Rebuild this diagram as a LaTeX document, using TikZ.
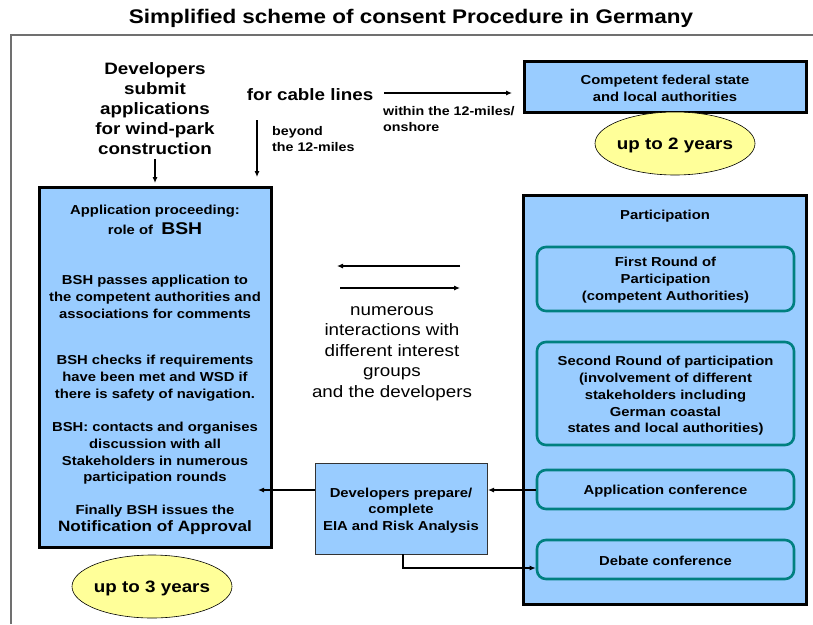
\documentclass[tikz,border=0pt]{standalone}
\usepackage{fontspec}
\setmainfont[FakeStretch=1.14]{Liberation Sans}
\usetikzlibrary{arrows.meta}
\definecolor{boxblue}{HTML}{99CCFF}
\definecolor{ovalyellow}{HTML}{FFFF99}
\definecolor{tealline}{HTML}{008080}
\definecolor{framegray}{HTML}{707070}
\tikzset{
  txt/.style={align=center, inner sep=0pt, yshift=-1.5pt},
  bigbox/.style={draw=black, line width=3pt, fill=boxblue, inner sep=0pt},
  roundbox/.style={draw=tealline, line width=2.6pt, fill=boxblue, rounded corners=9pt, inner sep=0pt},
  oval/.style={draw=black, line width=0.6pt, fill=ovalyellow, ellipse, inner sep=0pt},
  conn/.style={line width=1.1pt, -{Latex[length=6pt,width=5pt]}},
}
\usetikzlibrary{shapes.geometric}
\begin{document}
\begin{tikzpicture}[x=1pt,y=-1pt]
\useasboundingbox (0,0) rectangle (813,624);
% title
\node[txt, font=\fontsize{19.7}{22}\selectfont\bfseries] (title) at (411,17) {Simplified scheme of consent Procedure in Germany};
% frame
\draw[framegray, line width=2pt] (11,624) -- (11,35) -- (813,35);

% top left
\node[txt, font=\fontsize{16.5}{20.2}\selectfont\bfseries] (dev) at (155,107) {Developers\\submit\\applications\\for wind-park\\construction};
\node[txt, font=\fontsize{16.5}{20}\selectfont\bfseries] (cable) at (310,93) {for cable lines};
\coordinate (cableR) at (384,93);
\coordinate (cableD) at (257,120);
\node[txt, yshift=1.5pt, font=\fontsize{12.5}{16}\selectfont\bfseries, align=left, anchor=west] (within) at (383,119) {within the 12-miles/\\onshore};
\node[txt, yshift=1.5pt, font=\fontsize{12.5}{16}\selectfont\bfseries, align=left, anchor=west] (beyond) at (272,139) {beyond\\the 12-miles};

% competent box
\node[bigbox, minimum width=282pt, minimum height=51pt] (comp) at (665,86.5) {};
\node[txt, font=\fontsize{13}{17.5}\selectfont\bfseries] (comptxt) at (665,87) {Competent federal state\\and local authorities};
\node[oval, minimum width=160pt, minimum height=63pt] (two) at (675,143.5) {};
\node[txt, yshift=-0.5pt, font=\fontsize{16.5}{20}\selectfont\bfseries] at (two) {up to 2 years};

% left box
\node[bigbox, minimum width=232pt, minimum height=360pt] (bsh) at (155,367) {};
\node[txt, font=\fontsize{13}{20}\selectfont\bfseries] (b1) at (155,218) {Application proceeding:\\role of\ \ {\fontsize{17}{20}\selectfont BSH}};
\node[txt, font=\fontsize{13}{17}\selectfont\bfseries] (b2) at (155,295) {BSH passes application to\\the competent authorities and\\associations for comments};
\node[txt, font=\fontsize{13}{17}\selectfont\bfseries] (b3) at (155,377) {BSH checks if requirements\\have been met and WSD if\\there is safety of navigation.};
\node[txt, font=\fontsize{13}{16.7}\selectfont\bfseries] (b4) at (155,452) {BSH: contacts and organises\\discussion with all\\Stakeholders in numerous\\participation rounds};
\node[txt, font=\fontsize{13}{17}\selectfont\bfseries] (b5) at (155,518.5) {Finally BSH issues the\\{\fontsize{15}{17}\selectfont Notification of Approval}};
\node[oval, minimum width=160pt, minimum height=63pt] (three) at (152,586.5) {};
\node[txt, yshift=-0.5pt, font=\fontsize{16.5}{20}\selectfont\bfseries] at (three) {up to 3 years};

% middle
\coordinate (m1a) at (460,266);
\coordinate (m1b) at (337,266);
\coordinate (m2a) at (340,288);
\coordinate (m2b) at (460,288);
\node[txt, font=\fontsize{16.5}{20.6}\selectfont] (inter) at (392,352) {numerous\\interactions with\\different interest\\groups\\and the developers};

\node[draw=black!80, line width=0.8pt, fill=boxblue, minimum width=172pt, minimum height=91pt, inner sep=0pt] (eia) at (401,508.5) {};
\node[txt, font=\fontsize{13}{16.3}\selectfont\bfseries] (eiatxt) at (401,509) {Developers prepare/\\complete\\EIA and Risk Analysis};

% right box
\node[bigbox, minimum width=283pt, minimum height=409pt] (part) at (665,399.5) {};
\node[txt, font=\fontsize{13}{17}\selectfont\bfseries] (parttitle) at (665,215) {Participation};
\node[roundbox, minimum width=257pt, minimum height=64pt] (r1) at (665.5,279) {};
\node[txt, font=\fontsize{13}{17}\selectfont\bfseries] at (665.5,279) {First Round of\\Participation\\(competent Authorities)};
\node[roundbox, minimum width=257pt, minimum height=103pt] (r2) at (665.5,393.5) {};
\node[txt, font=\fontsize{13}{16.8}\selectfont\bfseries] at (665.5,394.5) {Second Round of participation\\(involvement of different\\stakeholders including\\German coastal\\states and local authorities)};
\node[roundbox, minimum width=257pt, minimum height=39pt] (r3) at (665.5,489.5) {};
\node[txt, font=\fontsize{13}{17}\selectfont\bfseries] at (r3) {Application conference};
\node[roundbox, minimum width=257pt, minimum height=39pt] (r4) at (665.5,559.5) {};
\node[txt, font=\fontsize{13}{17}\selectfont\bfseries] at (r4) {Debate conference};

% connectors
\draw[conn] (dev.south) ++(0,4) -- (155,183);
\draw[conn] (cableD) -- (257,177);
\draw[conn] (cableR) -- (512,93);
\draw[conn] (m1a) -- (m1b);
\draw[conn] (m2a) -- (m2b);
\draw[conn] (eia.west |- 0,490) -- (258,490);
\draw[conn] (r3.west |- 0,490) -- (488,490);
\draw[conn] (403,554) |- (r4.west |- 0,568);
\end{tikzpicture}
\end{document}
